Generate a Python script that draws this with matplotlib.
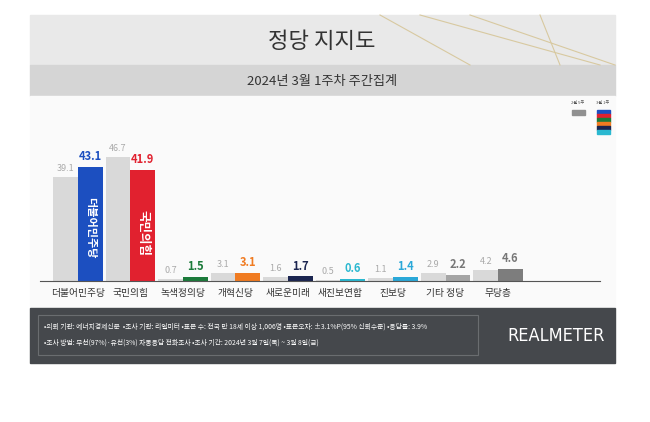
import numpy as np
import matplotlib.pyplot as plt
from matplotlib.patches import Rectangle

plt.rcParams['font.family'] = ['Noto Sans CJK JP', 'Noto Sans CJK KR', 'DejaVu Sans']

parties = ['더불어민주당', '국민의힘', '녹색정의당', '개혁신당', '새로운미래',
           '새진보연합', '진보당', '기타 정당', '무당층']
prev_week = [39.1, 46.7, 0.7, 3.1, 1.6, 0.5, 1.1, 2.9, 4.2]
this_week = [43.1, 41.9, 1.5, 3.1, 1.7, 0.6, 1.4, 2.2, 4.6]
colors = ['#1c4fc0', '#e1212f', '#1b7a3a', '#f07b21', '#1b2550',
          '#2ab8d0', '#2aa8d8', '#a5a5a5', '#7d7d7d']
prev_label = '2월 5주'
this_label = '3월 1주'
title = '정당 지지도'
subtitle = '2024년 3월 1주차 주간집계'
note1 = '•의뢰 기관: 에너지경제신문  •조사 기관: 리얼미터 •표본 수: 전국 만 18세 이상 1,006명 •표본오차: ±3.1%P(95% 신뢰수준) •응답률: 3.9%'
note2 = '•조사 방법: 무선(97%)·유선(3%) 자동응답 전화조사 •조사 기간: 2024년 3월 7일(목) ~ 3월 8일(금)'

W, H = 650, 422
fig = plt.figure(figsize=(6.5, 4.22), dpi=100)
bg = fig.add_axes([0, 0, 1, 1])
bg.set_xlim(0, W)
bg.set_ylim(H, 0)
bg.axis('off')

# panel backgrounds
bg.add_patch(Rectangle((30, 15), 585, 50, color='#e9e9e9'))
for x0, x1 in [(420, 600), (470, 615), (540, 560), (380, 470)]:
    bg.plot([x0, x1], [15, 65], color='#d8c9a0', lw=0.8)
bg.text(322, 41, title, fontsize=16, ha='center', va='center', color='#333333')
bg.add_patch(Rectangle((30, 65), 585, 31, color='#d5d5d5'))
bg.text(322, 81, subtitle, fontsize=9.5, ha='center', va='center', color='#333333')
bg.add_patch(Rectangle((30, 96), 585, 212, color='#fafafa'))
bg.add_patch(Rectangle((30, 308), 585, 55, color='#45484c'))
bg.add_patch(Rectangle((38, 315), 440, 40, fill=False, ec='#6a6d70', lw=0.8))
bg.text(44, 327, note1, fontsize=4.9, color='white', va='center')
bg.text(44, 343, note2, fontsize=4.9, color='white', va='center')
bg.text(556, 336, 'REALMETER', fontsize=13, color='white', ha='center', va='center',
        fontstretch='condensed', family='DejaVu Sans', fontweight='light')

# small legend
bg.text(578, 104, prev_label, fontsize=3, ha='center', color='#555555')
bg.text(603, 104, this_label, fontsize=3, ha='center', color='#555555')
bg.add_patch(Rectangle((572, 110), 13, 5, color='#909090'))
for i, c in enumerate(['#1c4fc0', '#e1212f', '#1b7a3a', '#f07b21', '#1b2550', '#2ab8d0']):
    bg.add_patch(Rectangle((597, 110 + i * 4), 13, 4, color=c))

# bar chart
ax = fig.add_axes([40 / W, 1 - 281 / H, 560 / W, 171 / H])
ax.patch.set_alpha(0)
x = np.arange(len(parties))
bw = 0.47
ax.bar(x - bw / 2, prev_week, bw, color='#d9d9d9')
ax.bar(x + bw / 2, this_week, bw, color=colors)
for i in range(len(parties)):
    ax.text(x[i] - bw / 2, prev_week[i] + 1.5, f'{prev_week[i]}', ha='center', va='bottom',
            fontsize=6.5, color='#aaaaaa')
    ax.text(x[i] + bw / 2, this_week[i] + 1.5, f'{this_week[i]}', ha='center', va='bottom',
            fontsize=8, fontweight='bold', color=colors[i] if i < 7 else '#777777')
ax.text(x[0] + bw / 2, 20, '더불어민주당', rotation=270, color='white', fontsize=8,
        fontweight='bold', ha='center', va='center')
ax.text(x[1] + bw / 2, 18, '국민의힘', rotation=270, color='white', fontsize=9,
        fontweight='bold', ha='center', va='center')
ax.set_xlim(-0.72, 9.94)
ax.set_ylim(0, 64.4)
ax.set_xticks(x)
ax.set_xticklabels(parties, fontsize=7, color='#333333')
ax.tick_params(length=0, pad=5)
ax.set_yticks([])
for s in ['top', 'right', 'left']:
    ax.spines[s].set_visible(False)
ax.spines['bottom'].set_color('#555555')

fig.savefig('out.png', dpi=100)
